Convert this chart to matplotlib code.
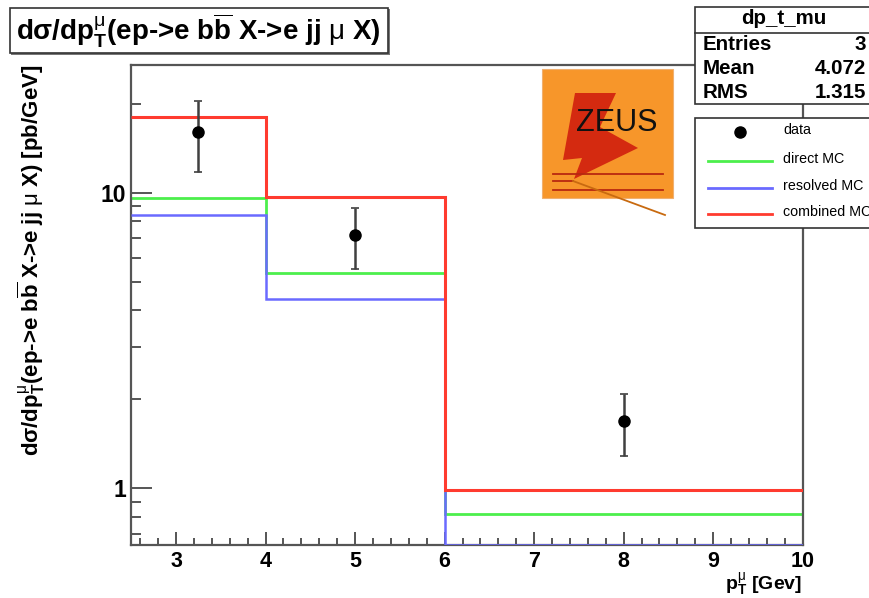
import numpy as np
import matplotlib
matplotlib.use('Agg')
import matplotlib.pyplot as plt
from matplotlib.patches import Rectangle, Polygon
from matplotlib.lines import Line2D
from matplotlib.ticker import FixedLocator, FixedFormatter, NullFormatter, MultipleLocator, LogLocator

# ---------------- data ----------------
bin_edges = [2.5, 4.0, 6.0, 10.0]
direct_mc = [9.62, 5.33, 0.82]
resolved_mc = [8.39, 4.38, 0.167]
combined_mc = [18.03, 9.65, 0.987]
data_x = [3.25, 5.0, 8.0]
data_y = [16.1, 7.18, 1.69]
data_err = [4.35, 1.67, 0.40]
x_ticks = [3, 4, 5, 6, 7, 8, 9, 10]
y_ticks = [1, 10]
y_tick_labels = ["1", "10"]
stats_title = "dp_t_mu"
stats_labels = ["Entries", "Mean", "RMS"]
stats_values = ["3", "4.072", "1.315"]
legend_labels = ["data", "direct MC", "resolved MC", "combined MC"]

# ---------------- style ----------------
plt.rcParams['font.family'] = ['Liberation Sans', 'DejaVu Sans']
plt.rcParams['mathtext.fontset'] = 'custom'
plt.rcParams['mathtext.rm'] = 'Liberation Sans:bold'
plt.rcParams['mathtext.bf'] = 'Liberation Sans:bold'
plt.rcParams['mathtext.sf'] = 'Liberation Sans:bold'
plt.rcParams['mathtext.it'] = 'Liberation Sans'

W, H = 870, 598
fig = plt.figure(figsize=(W / 100, H / 100), dpi=100)
fig.patch.set_facecolor('white')

def fx(px):
    return px / W

def fy(py):
    return 1 - py / H

ax_l, ax_r, ax_t, ax_b = 131.3, 802.7, 64.7, 545.0
ax = fig.add_axes([fx(ax_l), fy(ax_b), fx(ax_r) - fx(ax_l), fy(ax_t) - fy(ax_b)])

ymin, ymax = 0.643, 27.1
ax.set_xlim(bin_edges[0], bin_edges[-1])
ax.set_yscale('log')
ax.set_ylim(ymin, ymax)

c_green = '#4cef4c'
c_blue = '#6a6aff'
c_red = '#ff3b2f'

ax.stairs(np.clip(direct_mc, ymin, None), bin_edges, baseline=None, color=c_green, lw=2.0, zorder=2)
ax.stairs(np.clip(resolved_mc, ymin * 1.003, None), bin_edges, baseline=None, color=c_blue, lw=1.8, zorder=3)
ax.stairs(np.clip(combined_mc, ymin, None), bin_edges, baseline=None, color=c_red, lw=2.2, zorder=4)

ax.errorbar(data_x, data_y, yerr=data_err, fmt='o', color='black', ecolor='#404040',
            elinewidth=1.8, capsize=3, capthick=1.2, markersize=8, zorder=5)

for s in ax.spines.values():
    s.set_color('#555555')
    s.set_linewidth(1.6)

ax.xaxis.set_major_locator(FixedLocator(x_ticks))
ax.xaxis.set_minor_locator(MultipleLocator(0.2))
ax.yaxis.set_major_locator(FixedLocator(y_ticks))
ax.yaxis.set_major_formatter(FixedFormatter(y_tick_labels))
ax.yaxis.set_minor_locator(LogLocator(base=10, subs=np.arange(2, 10)))
ax.yaxis.set_minor_formatter(NullFormatter())
ax.tick_params(axis='both', which='both', direction='in', top=False, right=False,
               color='#555555', width=1.4)
ax.tick_params(axis='y', which='major', length=15, pad=3.5)
ax.tick_params(axis='y', which='minor', length=7.5)
ax.tick_params(axis='x', which='major', length=9.5, pad=4)
ax.tick_params(axis='x', which='minor', length=5)
for lab in ax.get_xticklabels():
    lab.set_fontsize(15.5)
    lab.set_fontweight('bold')
for lab in ax.get_yticklabels():
    lab.set_fontsize(16.5)
    lab.set_fontweight('bold')

# axis titles
ylab = r"dσ/dp$_\mathrm{T}^{\mu}$(ep->e b$\overline{\mathrm{b}}$ X->e jj $\mu$ X) [pb/GeV]"
fig.text(fx(31), fy(ax_t), ylab, rotation=90, ha='center', va='top',
         fontsize=16, fontweight='bold')
fig.text(fx(802), fy(584), r"p$_\mathrm{T}^{\mu}$ [Gev]", ha='right', va='center',
         fontsize=14, fontweight='bold')

# title box
def box(x0, y0, x1, y1, z=10, shadow=True):
    if shadow:
        fig.add_artist(Rectangle((fx(x0 + 1.5), fy(y1 + 1.5)), fx(x1) - fx(x0), fy(y0) - fy(y1),
                                 transform=fig.transFigure, facecolor='#777777',
                                 edgecolor='none', zorder=z - 0.5))
    fig.add_artist(Rectangle((fx(x0), fy(y1)), fx(x1) - fx(x0), fy(y0) - fy(y1),
                             transform=fig.transFigure, facecolor='white',
                             edgecolor='#333333', lw=1.2, zorder=z))

box(10, 8, 388, 53)
title = r"dσ/dp$_\mathrm{T}^{\mu}$(ep->e b$\overline{\mathrm{b}}$ X->e jj $\mu$ X)"
fig.text(fx(198), fy(31), title, ha='center', va='center', fontsize=20,
         fontweight='bold', zorder=11)

# stats box
box(695, 7, 874, 104, shadow=False)
fig.add_artist(Line2D([fx(695), fx(870)], [fy(33), fy(33)], transform=fig.transFigure,
                      color='#333333', lw=1.2, zorder=11))
fig.text(fx(784), fy(19), stats_title, ha='center', va='center', fontsize=14.8,
         fontweight='bold', zorder=11)
for i, (lab, val) in enumerate(zip(stats_labels, stats_values)):
    yy = 44 + i * 24
    fig.text(fx(703), fy(yy), lab, ha='left', va='center', fontsize=14.8,
             fontweight='bold', zorder=11)
    fig.text(fx(866), fy(yy), val, ha='right', va='center', fontsize=14.8,
             fontweight='bold', zorder=11)

# legend box
box(695, 118, 874, 228, shadow=False)
leg_y = [132, 161, 188, 214]
leg_colors = [None, c_green, c_blue, c_red]
for lab, yy, col in zip(legend_labels, leg_y, leg_colors):
    if col is None:
        fig.add_artist(Line2D([fx(740)], [fy(yy)], transform=fig.transFigure, marker='o',
                              color='black', markersize=8, linestyle='none', zorder=11))
    else:
        fig.add_artist(Line2D([fx(708), fx(772)], [fy(yy), fy(yy)], transform=fig.transFigure,
                              color=col, lw=2.0, zorder=11))
    fig.text(fx(783), fy(yy - 2), lab, ha='left', va='center', fontsize=10.3, zorder=11)

# ZEUS logo
fig.add_artist(Rectangle((fx(542), fy(198)), fx(673) - fx(542), fy(69) - fy(198),
                         transform=fig.transFigure, facecolor='#f7962a',
                         edgecolor='#f0b070', lw=0.8, zorder=12))
bolt_px = [(575, 93), (616, 93), (600, 127), (638, 148), (574, 179), (582, 158), (563, 160)]
fig.add_artist(Polygon([(fx(x), fy(y)) for x, y in bolt_px], closed=True,
                       transform=fig.transFigure, facecolor='#d42a10', edgecolor='none',
                       zorder=13))
for (x0, x1, yy) in [(553, 663, 173.5), (553, 573, 181), (553, 663, 189.5)]:
    fig.add_artist(Line2D([fx(x0), fx(x1)], [fy(yy), fy(yy)], transform=fig.transFigure,
                          color='#b82810', lw=1.3, zorder=14))
fig.add_artist(Line2D([fx(573), fx(665)], [fy(181), fy(215)], transform=fig.transFigure,
                      color='#c86a10', lw=1.3, zorder=14))
fig.text(fx(617), fy(123), "ZEUS", ha='center', va='center', fontsize=22,
         color='#111111', zorder=15)

fig.savefig('out.png', dpi=100, facecolor='white')
